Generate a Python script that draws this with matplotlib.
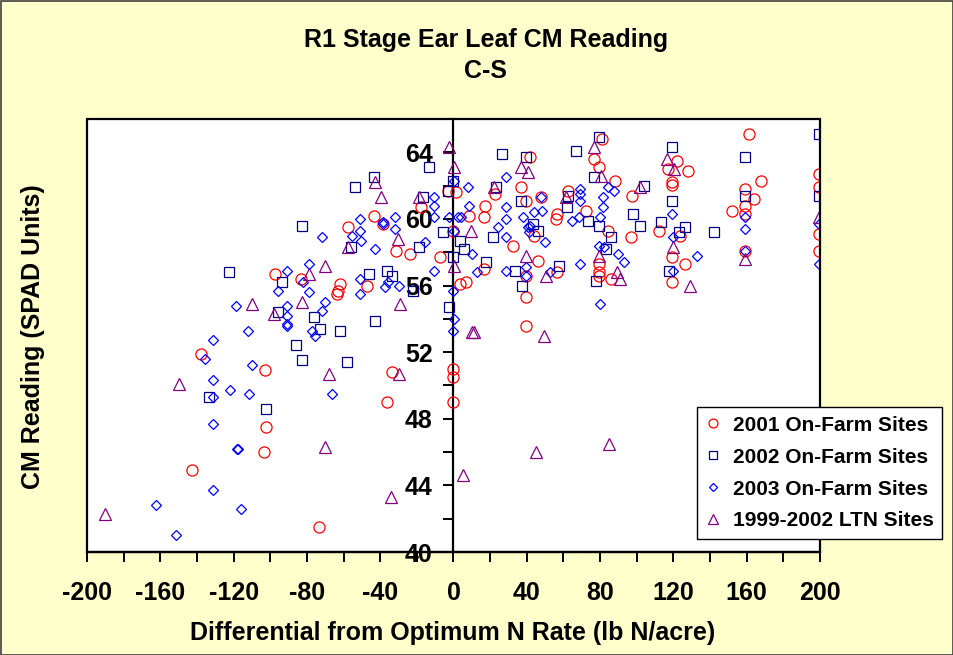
import matplotlib
matplotlib.use("Agg")
import matplotlib.pyplot as plt
from matplotlib.lines import Line2D
from matplotlib.patches import Rectangle
from matplotlib.ticker import MultipleLocator

# ---------------- data ----------------
x2001 = [-3.1, 1.5, -17.6, -43.3, -38.6, -57.7, -0.4, -31.6, -23.5, -7.1, -97.3, -83, -62.2, -47.3, -63.1, -63.7,
         -137.7, -102.8, -102.2, -103.5, -142.8, -73.5, -33.5, -36.4, 0, 0, 0,
         161.5, 81.1, 41.5, 76.6, 79.3, 121.9, 117, 127.9, 119.1, 119.3, 167.9, 199.4, 199.4, 87.9, 22.4, 36.9,
         39.3, 47.9, 62.4, 97.3, 159.3, 163.9, 159.3, 159.3, 152.1, 17.3, 16.5, 8.3, 56.6, 56, 72.4, 43.8, 32.4,
         84.2, 97, 112, 123.7, 119.1, 126.1, 119.1, 159.3, 199.4, 199.4, 46, 16.5, 6.9, 3.3, 39.3, 56.4, 79.3,
         79.3, 79.3, 86, 39.3, 39.3]
y2001 = [61.7, 61.6, 60.7, 60.2, 59.7, 59.5, 59.3, 58.1, 57.9, 57.7, 56.7, 56.4, 56.1, 56.0, 55.7, 55.5,
         51.9, 50.9, 47.5, 46.0, 44.9, 41.5, 50.8, 49.0, 51.0, 50.5, 49.0,
         65.1, 64.8, 63.7, 63.6, 63.1, 63.5, 63.0, 62.9, 62.2, 62.05, 62.3, 62.7, 61.9, 62.3, 61.5, 61.9,
         61.1, 61.3, 61.7, 61.4, 61.8, 61.2, 60.8, 60.3, 60.5, 60.8, 60.1, 60.2, 60.3, 60.0, 60.5, 59.0, 58.4,
         59.3, 58.9, 59.3, 59.0, 57.7, 57.3, 56.2, 58.1, 59.1, 58.1, 57.5, 57.0, 56.2, 56.1, 56.6, 56.8, 57.3,
         56.8, 56.6, 56.4, 55.3, 53.6]

x2002 = [-13.6, -43.3, -53.6, -16.4, -3, -0.4, -82.6, -5.8, -55.8, -18.6, -0.4, -122.6, -93.7, -46, -36.2,
         -33.7, -22.2, -2.7, -95.9, -76.2, -42.6, -73.1, -62.2, -85.8, -82.6, -58.2, -133.5, -102.2,
         79.3, 199.4, 26.4, 39.3, 66.6, 119.1, 159.3, 76.6, 23.3, 103.7, 36.9, 199.4, 159.3, 61.8, 97.9, 119.1,
         113.3, 73.3, 43.3, 46, 79.3, 101.9, 126.1, 141.9, 123.3, 21.8, 3.3, 86, 6, 83.3, 17.8, 33.3, 57.8,
         117.5, 77.5, 37.5, 62.4]
y2002 = [63.1, 62.5, 61.9, 61.3, 61.7, 62.3, 59.6, 59.2, 58.3, 58.3, 57.7, 56.8, 56.2, 56.7, 56.9,
         56.6, 55.7, 54.7, 54.4, 54.1, 53.9, 53.4, 53.3, 52.4, 51.5, 51.4, 49.3, 48.6,
         64.9, 65.1, 63.9, 63.7, 64.1, 64.3, 63.7, 62.5, 61.9, 62.0, 61.1, 61.4, 61.4, 60.7, 60.3, 61.1,
         59.8, 59.9, 59.7, 59.3, 59.6, 59.6, 59.5, 59.2, 59.2, 58.9, 58.7, 58.9, 58.2, 58.2, 57.4, 56.9, 57.2,
         56.9, 56.3, 56.0, 61.4]

x2003 = [0.5, -10.9, -10.9, -10.9, -15.8, 2.4, -50.9, -38.7, -38.2, -31.8, -31.8, -71.9, -50.9, -55.5,
         -50.7, -42.6, -78.6, -91, -81.9, -95.5, -78.6, -50.9, -50.9, -37.3, -36, -29.8, -10.9, -0.4, -118.6,
         -91, -91, -91, -90.6, -70, -71.6, -111.9, -77.3, -75.7, -131, 0.5, 0,
         -135.5, -110, -131, -122.2, -111.7, -131, -66.4, -131, -118.4, -117.8, -131, -162.3, -115.9, -151.7,
         28.8, 7.8, 8.3, 4.2, -2.2, 0.5, 28.8, 28.8, 24.2, 28.8, 47.9, 37.8, 44.2, 48.4, 40.4, 42, 41.1, 50,
         68.8, 68.8, 68.8, 64.8, 68.4, 81.5, 81.5, 79.7, 84.3, 87.5, 79.3, 82.4, 90, 92.9, 68.8, 79.7, 119.3,
         119.7, 119.7, 132.8, 159.3, 159.3, 159.3, 199.4, 199.4, 10, 12.7, 28.4, 39.3, 39.3, 52.4]
y2003 = [62.3, 61.3, 60.8, 60.1, 58.6, 60.1, 60.0, 59.7, 59.8, 60.1, 59.4, 58.9, 59.3, 59.0,
         58.7, 58.2, 57.3, 56.9, 56.2, 55.7, 55.6, 56.4, 55.5, 55.9, 56.2, 56.0, 56.9, 55.7, 54.8,
         54.8, 54.2, 53.6, 53.7, 55.0, 54.5, 53.3, 53.3, 53.0, 52.7, 54.0, 53.3,
         51.6, 51.2, 50.3, 49.7, 49.5, 49.3, 49.5, 47.7, 46.2, 46.2, 43.7, 42.8, 42.6, 41.0,
         62.5, 61.9, 60.8, 60.1, 60.1, 59.3, 60.7, 60.0, 59.5, 58.9, 61.3, 60.1, 60.4, 60.5, 59.5, 59.6, 59.2, 58.6,
         61.8, 61.5, 61.1, 59.9, 60.1, 61.3, 60.7, 60.1, 61.9, 61.7, 58.4, 58.3, 57.9, 57.4, 57.3, 54.9, 60.3,
         58.9, 56.9, 57.8, 60.1, 59.4, 58.1, 59.7, 57.3, 57.9, 56.8, 56.9, 57.1, 56.6, 56.8]

xltn = [-2.7, 0.4, -43, -39.5, -18.6, -30.2, -57.7, -70, -79, -110, -97.7, -82.6, -29, 0.4,
        -150, -68.2, -29.8, -70, -34, -190, 5.1, 10, 11, 49.3, 45.1, 85.1,
        76.6, 36.9, 40.6, 22, 80.6, 116.6, 120.2, 102, 61.5, 9.7, 39.3, 50.6, 89.3, 91, 119.7, 79.3, 129.3,
        159.3, 199.4]
yltn = [64.3, 63.1, 62.2, 61.3, 61.3, 58.8, 58.3, 57.2, 56.7, 54.9, 54.3, 55.0, 54.9, 57.2,
        50.1, 50.7, 50.7, 46.3, 43.3, 42.3, 44.6, 53.2, 53.2, 53.0, 46.0, 46.5,
        64.3, 63.1, 62.8, 61.9, 62.6, 63.6, 63.0, 61.9, 61.3, 59.3, 57.8, 56.6, 56.8, 56.4, 58.3, 57.8, 56.0,
        57.6, 60.1]

series_labels = ["2001 On-Farm Sites", "2002 On-Farm Sites", "2003 On-Farm Sites", "1999-2002 LTN Sites"]
x_ticks = [-200, -160, -120, -80, -40, 0, 40, 80, 120, 160, 200]
y_ticks = [40, 44, 48, 52, 56, 60, 64]

title_line1 = "R1 Stage Ear Leaf CM Reading"
title_line2 = "C-S"
x_label = "Differential from Optimum N Rate (lb N/acre)"
y_label = "CM Reading (SPAD Units)"

# ---------------- figure ----------------
W, H = 954, 655
fig = plt.figure(figsize=(W / 100, H / 100), dpi=100, facecolor="#FFFFCC")
fig.patches.append(Rectangle((0.5 / W, 0.5 / H), 1 - 1.5 / W, 1 - 1.5 / H, transform=fig.transFigure,
                             fill=False, edgecolor="#404040", linewidth=1.2))

ax = fig.add_axes([87 / W, 1 - 552 / H, (820 - 87) / W, (552 - 119) / H])
ax.set_facecolor("white")
ax.set_xlim(-200, 200)
ax.set_ylim(40, 66)

arial = ["Liberation Sans", "DejaVu Sans"]

styles = [
    dict(marker="o", color="#FF0000", ms=8.0),
    dict(marker="s", color="#000080", ms=7.4),
    dict(marker="D", color="#0000FF", ms=5.4),
    dict(marker="^", color="#800080", ms=8.2),
]
data = [(x2001, y2001), (x2002, y2002), (x2003, y2003), (xltn, yltn)]
for (xs, ys), st in zip(data, styles):
    ax.plot(xs, ys, linestyle="none", marker=st["marker"], markersize=st["ms"],
            markerfacecolor="none", markeredgecolor=st["color"], markeredgewidth=0.9, zorder=3)

# spines: y axis at x = 0, frame drawn separately
for s in ["top", "right"]:
    ax.spines[s].set_visible(False)
ax.spines["left"].set_position(("data", 0))
ax.spines["left"].set_linewidth(1.6)
ax.spines["bottom"].set_linewidth(1.6)
ax.spines["left"].set_zorder(2)
ax.add_patch(Rectangle((0, 0), 1, 1, transform=ax.transAxes, fill=False, edgecolor="black",
                       linewidth=1.6, zorder=4, clip_on=False))

ax.set_xticks(x_ticks)
ax.set_xticklabels([str(v) for v in x_ticks])
ax.xaxis.set_minor_locator(MultipleLocator(20))
ax.set_yticks(y_ticks)
ax.set_yticklabels([str(v) for v in y_ticks])
ax.yaxis.set_minor_locator(MultipleLocator(2))
ax.tick_params(axis="x", which="both", direction="out", length=7, width=1.4, pad=14)
ax.tick_params(axis="y", which="both", direction="out", length=7, width=1.4, pad=8)
for lab in ax.get_xticklabels():
    lab.set_fontfamily(arial)
    lab.set_fontweight("bold")
    lab.set_fontsize(18)
for lab in ax.get_yticklabels():
    lab.set_fontfamily(arial)
    lab.set_fontweight("bold")
    lab.set_fontsize(18)
    lab.set_zorder(5)

fig.text(486 / W, 1 - 40 / H, title_line1, ha="center", va="center", fontsize=18,
         fontweight="bold", family=arial)
fig.text(486 / W, 1 - 71 / H, title_line2, ha="center", va="center", fontsize=18,
         fontweight="bold", family=arial)
fig.text(453 / W, 1 - 633 / H, x_label, ha="center", va="center", fontsize=18,
         fontweight="bold", family=arial)
fig.text(33 / W, 1 - 337 / H, y_label, ha="center", va="center", fontsize=18,
         fontweight="bold", family=arial, rotation=90)

handles = [Line2D([], [], linestyle="none", marker=st["marker"], markersize=st["ms"] * 0.8,
                  markerfacecolor="none", markeredgecolor=st["color"], markeredgewidth=0.9)
           for st in styles]
leg = fig.legend(handles, series_labels, loc="upper left", bbox_to_anchor=(697 / W, 1 - 407 / H),
                 bbox_transform=fig.transFigure, frameon=True, fancybox=False, borderaxespad=0,
                 prop=dict(family=arial, weight="bold", size=15), handlelength=0.7,
                 handletextpad=0.6, labelspacing=0.62, borderpad=0.42)
leg.get_frame().set_edgecolor("black")
leg.get_frame().set_linewidth(1.0)
leg.get_frame().set_facecolor("white")
leg.get_frame().set_alpha(1)

fig.savefig("out.png", dpi=100, facecolor=fig.get_facecolor())
